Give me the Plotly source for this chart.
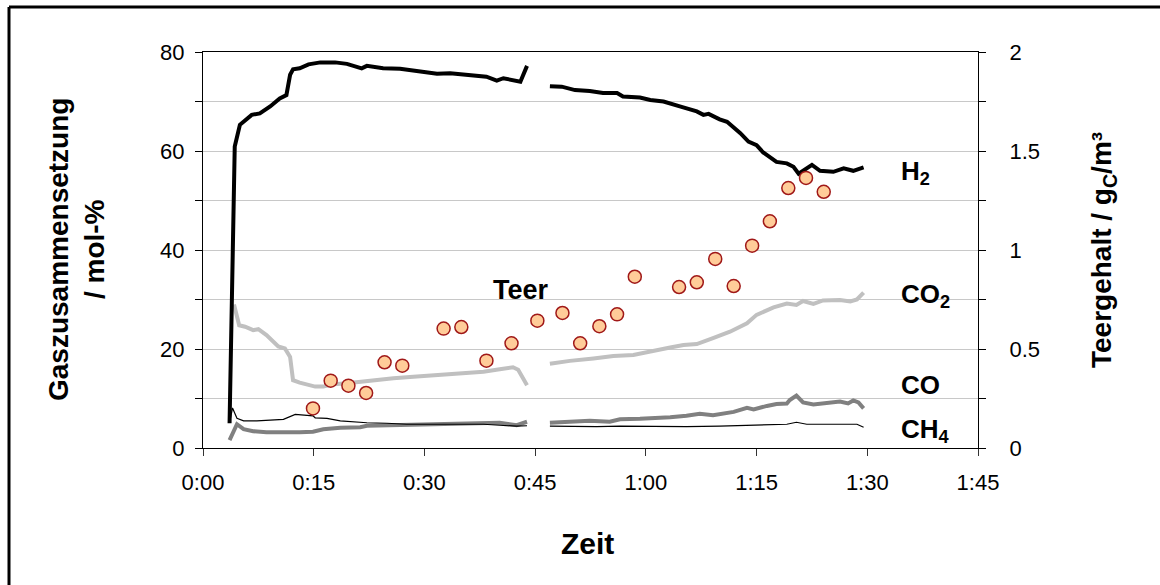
import plotly.graph_objects as go

# ---------------- data (time in minutes) ----------------
h2_time = [3.6, 4.1, 4.3, 5.0, 5.7, 6.6, 7.7, 9.1, 10.4, 11.3, 11.8, 12.2, 13.1, 14.3, 15.9, 17.9,
           19.5, 21.0, 21.5, 22.2, 24.4, 26.7, 29.0, 31.7, 33.5, 35.7, 38.4, 39.8, 40.7, 43.0, 43.9,
           None,
           47.0, 48.6, 50.4, 52.4, 54.2, 56.1, 56.9, 59.2, 60.6, 62.4, 64.6, 66.9, 67.8, 68.5, 70.0,
           71.0, 72.8, 73.9, 75.0, 75.9, 77.7, 79.1, 80.0, 80.7, 82.5, 83.6, 85.4, 86.8, 88.1, 89.5]
h2_mol = [5, 44, 60.9, 65.3, 66.1, 67.3, 67.6, 69, 70.6, 71.3, 75.4, 76.5, 76.7, 77.5, 77.9, 77.9,
          77.6, 77, 76.7, 77.2, 76.7, 76.6, 76.2, 75.6, 75.7, 75.4, 75, 74.2, 74.7, 74, 77.2,
          None,
          73.1, 73, 72.3, 72.1, 71.7, 71.7, 71, 70.8, 70.3, 70, 69, 68, 67.3, 67.5, 66.4,
          65.9, 63.6, 61.9, 61.2, 59.7, 57.8, 57.5, 56.8, 55.4, 57.2, 56, 55.8, 56.5, 56, 56.7]

co2_time = [4.2, 4.9, 5.7, 6.8, 7.5, 8.6, 10.2, 11.1, 11.8, 12.2, 13.1, 14.7, 15.2, 16.3, 17.7,
            19.5, 21.3, 23.5, 25.8, 28.5, 31.2, 33.9, 35.7, 38.0, 40.2, 42.0, 42.7, 43.9,
            None,
            47.0, 49.7, 52.9, 55.6, 58.3, 61.0, 63.3, 65.1, 66.9, 69.1, 71.4, 73.7, 75.0, 77.3,
            79.1, 80.4, 81.3, 82.7, 84.0, 86.3, 87.7, 88.6, 89.5]
co2_mol = [29, 24.8, 24.5, 23.8, 24, 22.8, 20.5, 20.1, 18.4, 13.7, 13.2, 12.7, 12.4, 12.4, 12.9,
           13.1, 13.4, 13.9, 14.1, 14.4, 14.7, 14.9, 15.2, 15.4, 15.9, 16.3, 15.8, 12.7,
           None,
           17.0, 17.6, 18.1, 18.6, 18.8, 19.7, 20.3, 20.8, 21.0, 22.2, 23.5, 25.2, 26.9, 28.4,
           29.2, 28.9, 29.7, 29.1, 29.8, 29.9, 29.6, 30, 31.4]

co_time = [3.6, 4.6, 5.5, 6.8, 8.6, 10.9, 13.1, 14.9, 16.3, 18.6, 21.3, 22.2, 24.9, 27.6, 31.2,
           34.8, 38.0, 40.2, 42.5, 43.9,
           None,
           47.0, 49.7, 52.4, 55.1, 56.5, 59.2, 61.0, 63.3, 65.5, 67.3, 69.1, 71.9, 73.7, 74.6,
           76.4, 77.7, 79.1, 79.5, 80.4, 81.3, 82.7, 84.5, 86.3, 87.4, 88.1, 88.8, 89.5]
co_mol = [1.6, 4.8, 3.8, 3.4, 3.2, 3.1, 3.2, 3.3, 3.8, 4.1, 4.2, 4.5, 4.6, 4.8, 4.8,
          5.0, 5.1, 5.1, 4.6, 5.3,
          None,
          5.1, 5.3, 5.5, 5.3, 5.8, 5.9, 6.0, 6.2, 6.5, 6.9, 6.6, 7.3, 8.1, 7.8,
          8.5, 8.9, 9.0, 9.7, 10.6, 9.2, 8.8, 9.2, 9.4, 9.0, 9.6, 9.2, 8.0]

ch4_time = [3.6, 4.0, 4.6, 5.5, 7.3, 9.1, 10.9, 12.5, 14.1, 14.9, 15.2, 16.8, 18.6, 20.4, 22.2,
            24.9, 27.6, 31.2, 34.8, 38.0, 40.2, 42.5, 43.9,
            None,
            47.0, 49.7, 53.3, 56.5, 61.0, 65.5, 70.0, 74.6, 79.1, 80.4, 81.8, 85.9, 88.6, 89.5]
ch4_mol = [5.1, 8.1, 6.0, 5.5, 5.5, 5.7, 5.8, 6.8, 6.5, 6.5, 6.1, 6.0, 5.5, 5.3, 5.1,
           5.0, 4.8, 4.8, 4.8, 4.8, 4.6, 4.4, 4.5,
           None,
           4.4, 4.3, 4.3, 4.4, 4.3, 4.3, 4.4, 4.6, 4.8, 5.2, 4.8, 4.8, 4.8, 4.2]

teer_time = [14.9, 17.3, 19.7, 22.1, 24.6, 27.0, 32.6, 35.0, 38.4, 41.8, 45.3, 48.7, 51.1,
             53.7, 56.1, 58.5, 64.5, 66.9, 69.4, 71.9, 74.4, 76.8, 79.3, 81.7, 84.1]
teer_gc = [0.200, 0.340, 0.315, 0.278, 0.433, 0.416, 0.603, 0.611, 0.441, 0.529, 0.643, 0.682,
           0.529, 0.615, 0.675, 0.865, 0.813, 0.837, 0.955, 0.818, 1.022, 1.145, 1.313, 1.364, 1.294]

x_tickvals = [0, 15, 30, 45, 60, 75, 90, 105]
x_ticktext = ["0:00", "0:15", "0:30", "0:45", "1:00", "1:15", "1:30", "1:45"]

# ---------------- figure ----------------
FONT = "Liberation Sans, Arial, sans-serif"
fig = go.Figure()

fig.add_trace(go.Scatter(x=co2_time, y=co2_mol, mode="lines", name="CO2",
                         line=dict(color="#c0c0c0", width=4), connectgaps=False))
fig.add_trace(go.Scatter(x=co_time, y=co_mol, mode="lines", name="CO",
                         line=dict(color="#808080", width=4), connectgaps=False))
fig.add_trace(go.Scatter(x=ch4_time, y=ch4_mol, mode="lines", name="CH4",
                         line=dict(color="#000000", width=1.2), connectgaps=False))
fig.add_trace(go.Scatter(x=h2_time, y=h2_mol, mode="lines", name="H2",
                         line=dict(color="#000000", width=4), connectgaps=False))
fig.add_trace(go.Scatter(x=teer_time, y=teer_gc, mode="markers", name="Teer", yaxis="y2",
                         marker=dict(symbol="circle", size=13, color="#ffcc99",
                                     line=dict(color="#a01818", width=1.5))))

W, H = 1160, 585
L, R, T, B = 203, 978, 52, 448


def px(xp):
    return (xp - L) / (R - L)


def py(yp):
    return (B - yp) / (B - T)


fig.update_layout(
    width=W, height=H,
    margin=dict(l=L, r=W - R, t=T, b=H - B, pad=0),
    paper_bgcolor="white", plot_bgcolor="white",
    showlegend=False,
    font=dict(family=FONT, size=22, color="black"),
    xaxis=dict(range=[0, 105], tickmode="array", tickvals=x_tickvals, ticktext=x_ticktext,
               showgrid=False, zeroline=False, showline=True, linecolor="black", linewidth=1,
               mirror=True, ticks="outside", ticklen=7, tickcolor="#333", tickwidth=1,
               ticklabelstandoff=8, tickfont=dict(size=22)),
    yaxis=dict(range=[0, 80], tickmode="linear", tick0=0, dtick=20,
               showgrid=True, gridcolor="#c8c8c8", gridwidth=1, zeroline=False,
               showline=True, linecolor="black", linewidth=1,
               ticks="outside", ticklen=7, tickcolor="black", ticklabelstandoff=6,
               minor=dict(dtick=10, ticks="outside", ticklen=7, tickcolor="black",
                          showgrid=True, gridcolor="#c8c8c8", gridwidth=1),
               tickfont=dict(size=22)),
    yaxis2=dict(range=[0, 2], overlaying="y", side="right", tickmode="linear", tick0=0, dtick=0.5,
                showgrid=False, zeroline=False, showline=True, linecolor="black", linewidth=1,
                ticks="outside", ticklen=7, tickcolor="black", ticklabelstandoff=19,
                minor=dict(dtick=0.25, ticks="outside", ticklen=7, tickcolor="black", showgrid=False),
                tickfont=dict(size=22)),
)

annotations = [
    dict(text="<b>Gaszusammensetzung<br>/ mol-%</b>", x=px(76), y=py(250), textangle=-90,
         font=dict(size=28)),
    dict(text="<b>Teergehalt / g<sub>C</sub>/m³</b>", x=px(1103), y=py(250), textangle=-90,
         font=dict(size=28)),
    dict(text="<b>Zeit</b>", x=px(587), y=py(543), font=dict(size=30)),
    dict(text="<b>Teer</b>", x=px(521), y=py(290), font=dict(size=27)),
    dict(text="<b>H<sub>2</sub></b>", x=px(899), y=py(172), xanchor="left", font=dict(size=26)),
    dict(text="<b>CO<sub>2</sub></b>", x=px(899), y=py(295), xanchor="left", font=dict(size=26)),
    dict(text="<b>CO</b>", x=px(899), y=py(385), xanchor="left", font=dict(size=26)),
    dict(text="<b>CH<sub>4</sub></b>", x=px(899), y=py(430), xanchor="left", font=dict(size=26)),
]
for a in annotations:
    a.update(xref="paper", yref="paper", showarrow=False)
    a.setdefault("xanchor", "center")
    a.setdefault("yanchor", "middle")
fig.update_layout(annotations=annotations)

# outer chart frame (only top and left edges visible in the crop)
fig.add_shape(type="line", xref="paper", yref="paper", x0=px(9), x1=px(1200), y0=py(7), y1=py(7),
              line=dict(color="black", width=3))
fig.add_shape(type="line", xref="paper", yref="paper", x0=px(9), x1=px(9), y0=py(7), y1=py(620),
              line=dict(color="black", width=3))

fig.write_html(
    "out.html",
    config={"displayModeBar": False},
    post_script="document.body.style.margin='0';document.body.style.overflow='hidden';",
)
